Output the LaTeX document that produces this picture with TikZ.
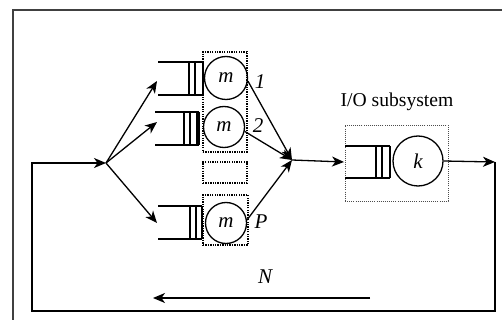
\documentclass[tikz,border=0pt]{standalone}
\usepackage{fontspec}
\setmainfont{Liberation Serif}
\usetikzlibrary{arrows.meta}
\begin{document}
\begin{tikzpicture}[x=1pt,y=-1pt,
  line/.style={line width=1.3pt,black},
  arr/.style={line width=1.3pt,black,-{Stealth[length=12pt,width=10pt,inset=3.5pt]}},
  server/.style={circle,draw,line width=1.3pt,inner sep=0pt,minimum size=#1,font=\fontsize{21}{24}\selectfont\itshape},
  cpubox/.style={draw,line width=1.5pt,dash pattern=on 1.3pt off 1.1pt,inner sep=0pt},
  iobox/.style={draw,black!70,line width=0.9pt,dash pattern=on 1pt off 1.1pt,inner sep=0pt},
  lbl/.style={font=\fontsize{21}{24}\selectfont\itshape,inner sep=0pt},
  txt/.style={font=\fontsize{19.6}{22}\selectfont,inner sep=0pt}]
\useasboundingbox (0,0) rectangle (502,320);
\fill[white] (0,0) rectangle (502,320);

% partial frame
\draw[line width=1.5pt,black!75] (13,320) -- (13,10) -- (502,10);

% processor group boxes
\node[cpubox,minimum width=44pt,minimum height=100pt] (boxA) at (225,102) {};
\node[cpubox,minimum width=44pt,minimum height=21pt] (boxB) at (225,172.5) {};
\node[cpubox,minimum width=45pt,minimum height=50pt] (boxP) at (225.5,220) {};

% queue 1
\draw[line] (158,62) -- (203,62) (158,95) -- (203,95);
\draw[line] (189,62) -- (189,95) (195,62) -- (195,95) (203,62) -- (203,95);
\node[server=43pt] (m1) at (226,78) {m};
% queue 2
\draw[line] (155,112) -- (199,112) (155,145) -- (199,145);
\draw[line] (184,112) -- (184,145) (190,112) -- (190,145) (197,112) -- (197,145) (199,112) -- (199,145);
\node[server=41pt] (m2) at (224,127) {m};
% queue P
\draw[line] (158,206) -- (202,206) (158,239) -- (202,239);
\draw[line] (190,206) -- (190,239) (196,206) -- (196,239) (202,206) -- (202,239);
\node[server=41pt] (mP) at (226,223) {m};

\node[lbl] (l1) at (260,82) {1};
\node[lbl] (l2) at (258,126) {2};
\node[lbl] (lP) at (261,222) {P};

% fork and join points
\coordinate (fork) at (106,163);
\coordinate (q1) at (157,81);
\coordinate (q2) at (157,122);
\coordinate (qP) at (157,223);
\coordinate (join) at (292,160);

\draw[arr] (fork) -- (q1);
\draw[arr] (fork) -- (q2);
\draw[arr] (fork) -- (qP);

\draw[arr] (m1.-8) -- (join);
\draw[arr] (m2.-12) -- (join);
\draw[arr] (mP.8) -- (join);

% I/O subsystem
\node[iobox,minimum width=103pt,minimum height=76pt] (iob) at (396.5,163) {};
\node[txt] (iolbl) at (397,102) {I/O subsystem};
\draw[line] (345,146) -- (390,146) (345,178) -- (390,178);
\draw[line] (376,146) -- (376,178) (382,146) -- (382,178) (390,146) -- (390,178);
\node[server=50pt] (k) at (418,161) {k};
\coordinate (qk) at (344,162);
\draw[arr] (join) -- (qk);

% feedback loop
\coordinate (out) at (495,162);
\coordinate (br) at (495,311);
\coordinate (bl) at (32,311);
\coordinate (start) at (32,163);
\draw[arr] (k.east) -- (out);
\draw[arr] (out) -- (br) -- (bl) -- (start) -- (fork);

% population arrow
\coordinate (nr) at (370,298);
\coordinate (nl) at (153,298);
\draw[arr] (nr) -- (nl);
\node[lbl] (N) at (265,277) {N};
\end{tikzpicture}
\end{document}
